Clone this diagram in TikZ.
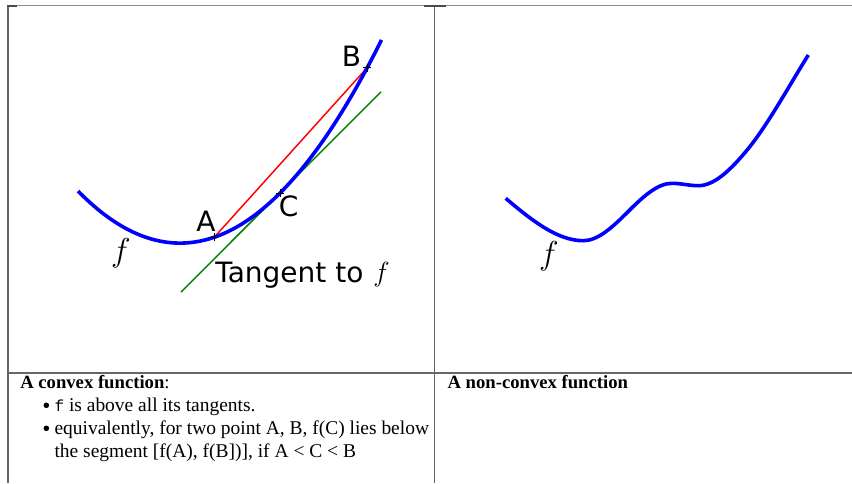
\documentclass[tikz,border=0pt]{standalone}
\usepackage{fontspec}
\setmainfont{Liberation Serif}
\setmonofont{Liberation Mono}
\newfontfamily\plotfont{DejaVu Sans}
\begin{document}
\begin{tikzpicture}[x=0.75pt,y=-0.75pt,
  vline/.style={draw=black!60, line width=1.3pt},
  hline/.style={draw=black!45, line width=0.9pt},
  tick/.style={draw=black!70, line width=1pt},
  curve/.style={draw=blue, line width=2.7pt, line join=round},
  chord/.style={draw=red, line width=1.1pt},
  tangent/.style={draw=black!50!green, line width=1.1pt},
  plusmk/.style={draw=black, line width=0.7pt},
  plotlbl/.style={inner sep=0pt, anchor=base west, font=\plotfont\fontsize{21pt}{25pt}\selectfont},
  flbl/.style={inner sep=0pt, anchor=base, font=\fontsize{29pt}{34pt}\selectfont},
  ftan/.style={inner sep=0pt, anchor=base, font=\fontsize{20pt}{24pt}\selectfont},
  txt/.style={inner sep=0pt, anchor=base west, font=\fontsize{14.6pt}{17pt}\selectfont},
  head/.style={inner sep=0pt, anchor=base west, font=\fontsize{14pt}{17pt}\selectfont},
  bulletdot/.style={circle, fill=black, inner sep=0pt, minimum size=4.2pt},
]
\useasboundingbox (0,0) rectangle (852,483);
\fill[white] (0,0) rectangle (852,483);

% ---- table frame ----
\coordinate (tl) at (7,5.7);
\coordinate (tr) at (852,5.7);
\coordinate (ml) at (7,373);
\coordinate (mr) at (852,373);
\coordinate (lt) at (8,5.7);
\coordinate (lb) at (8,483);
\coordinate (ct) at (434.5,5.7);
\coordinate (cb) at (434.5,483);
\draw[hline] (tl) -- (tr);
\draw[hline, draw=black!60] (ml) -- (mr);
\draw[vline] (lt) -- (lb);
\draw[vline] (ct) -- (cb);
\coordinate (t1a) at (7,5.9);
\coordinate (t1b) at (17,5.9);
\coordinate (t2a) at (424,5.9);
\coordinate (t2b) at (446,5.9);
\draw[tick] (t1a) -- (t1b);
\draw[tick] (t2a) -- (t2b);

% ---- convex function ----
\coordinate (A) at (214.3,237.2);
\coordinate (B) at (367.3,67.5);
\coordinate (C) at (280,193);
\coordinate (T1) at (181,292.1);
\coordinate (T2) at (381,91.8);
\draw[tangent] (T1) -- (T2);
\draw[chord] (A) -- (B);
\draw[curve] plot[domain=78:381.5, samples=120, smooth] (\x, {243.1 - 0.005007*(\x-180)*(\x-180)});
\foreach \p in {A,B,C}{
  \draw[plusmk] (\p) ++(-4,0) -- ++(8,0);
  \draw[plusmk] (\p) ++(0,-4) -- ++(0,8);
}
\node[plotlbl] (lA) at (196,231) {A};
\node[plotlbl] (lC) at (278.5,216.5) {C};
\node[plotlbl] (lB) at (341.5,66.7) {B};
\node[plotlbl] (ltan) at (215,282) {Tangent to};
\node[ftan] (ltanf) at (381.5,281.5) {$f$};
\node[flbl] (lf) at (121,261.6) {$f$};

% ---- non-convex function ----
\draw[curve] (505.7,198.3) .. controls (531.6,220.3) and (557.4,240.7) .. (583.3,240.7)
  .. controls (598.2,240.7) and (613.1,226.6) .. (628,211.7)
  .. controls (642.7,197) and (657.3,183.3) .. (672,183.3)
  .. controls (680.8,183.3) and (689.5,185.7) .. (698.3,185.7)
  .. controls (714.4,185.7) and (730.6,169.8) .. (746.7,150.5)
  .. controls (767.2,125.9) and (787.8,87.8) .. (808.3,55);
\node[flbl] (rf) at (549,264.2) {$f$};

% ---- captions ----
\node[head] (h1) at (20,388) {\textbf{A convex function}:};
\node[bulletdot] (b1) at (46.3,405.3) {};
\node[txt] (i1) at (54.3,411) {{\fontsize{12pt}{14pt}\selectfont\texttt{f}} is above all its tangents.};
\node[bulletdot] (b2) at (46.3,428.3) {};
\node[txt] (i2) at (54.3,434) {equivalently, for two point A, B, f(C) lies below};
\node[txt] (i3) at (54.3,457) {the segment [f(A), f(B])], if A < C < B};
\node[head] (h2) at (447.3,388) {\textbf{A non-convex function}};
\end{tikzpicture}
\end{document}
